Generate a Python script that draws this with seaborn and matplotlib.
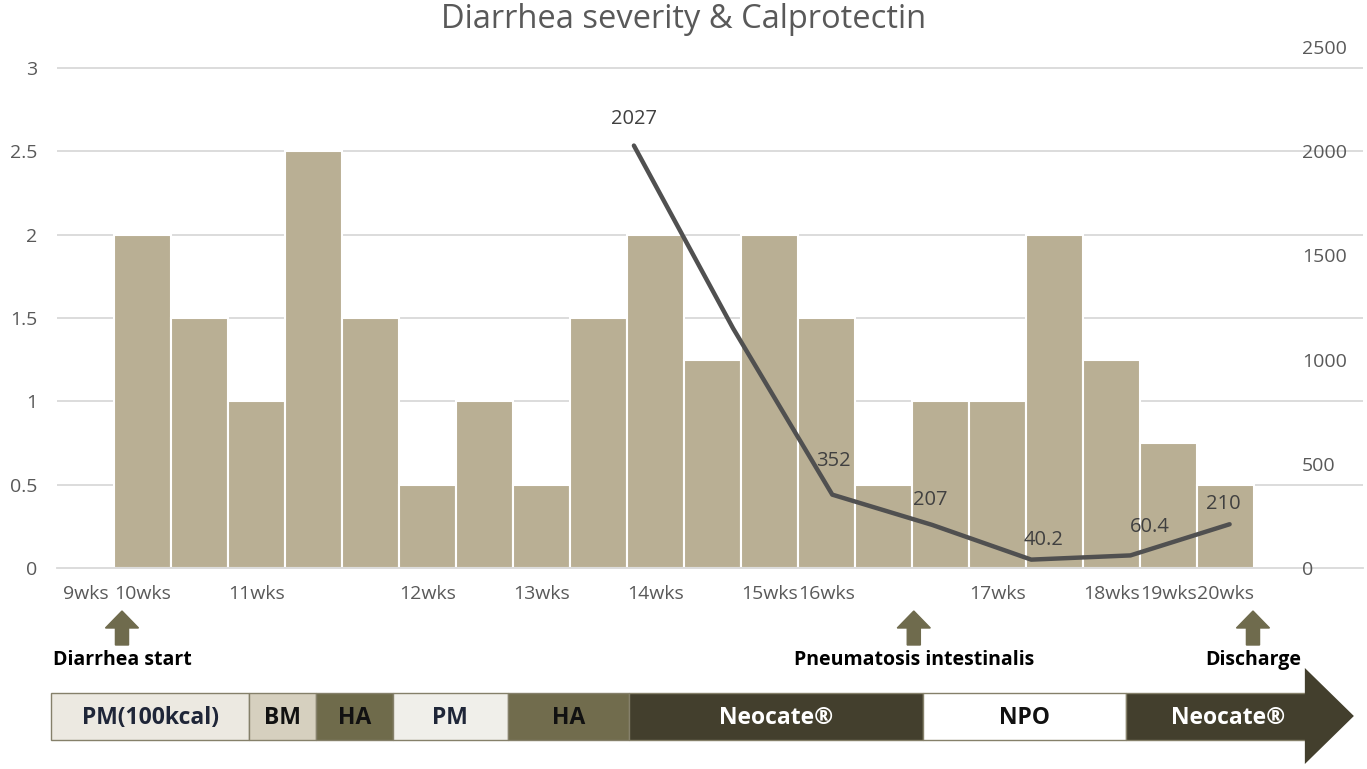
import matplotlib
matplotlib.use("Agg")
import matplotlib.pyplot as plt
import seaborn as sns
import pandas as pd
from matplotlib.patches import Polygon, Rectangle

# bars: diarrhea severity per (half-)week slot
weeks = list(range(23))
week_labels = ["9wks", "10wks", "", "11wks", "", "", "12wks", "", "13wks", "",
               "14wks", "", "15wks", "16wks", "", "", "17wks", "", "18wks",
               "19wks", "20wks", "", ""]
severity = [0, 2, 1.5, 1, 2.5, 1.5, 0.5, 1, 0.5, 1.5, 2, 1.25, 2, 1.5, 0.5,
            1, 1, 2, 1.25, 0.75, 0.5, 0, 0]

# line: calprotectin (secondary axis)
calp_pos = [9.62, 11.36, 13.1, 14.85, 16.59, 18.33, 20.07]
calprotectin = [2027, 1150, 352, 207, 40.2, 60.4, 210]
calp_labels = ["2027", "", "352", "207", "40.2", "60.4", "210"]

# events under the axis
event_labels = ["Diarrhea start", "Pneumatosis intestinalis", "Discharge"]
event_pos = [0.64, 14.53, 20.48]

# feeding timeline
phase_labels = ["PM(100kcal)", "BM", "HA", "PM", "HA", "Neocate®", "NPO", "Neocate®"]
phase_start = [-0.6, 2.87, 4.04, 5.39, 7.41, 9.54, 14.69, 18.25]
phase_end = [2.87, 4.04, 5.39, 7.41, 9.54, 14.69, 18.25, 21.41]

phase_colors = ["#ece9e1", "#d6d0bf", "#6f6b4b", "#f0efea", "#716c4d",
                "#433f2d", "#ffffff", "#433f2d"]
phase_text = ["#1f2638", "#111111", "#111111", "#1f2638", "#111111",
              "#ffffff", "#111111", "#ffffff"]

sns.set_style("white")
plt.rcParams["font.family"] = ["Open Sans", "DejaVu Sans"]

W, H = 1367, 769
fig = plt.figure(figsize=(W / 100, H / 100), dpi=100)
L, R, B, T = 57 / W, 1363 / W, 1 - 568 / H, 1 - 47 / H
ax = fig.add_axes([L, B, R - L, T - B])

df = pd.DataFrame({"week": weeks, "severity": severity})
sns.barplot(data=df, x="week", y="severity", color="#b9af94", saturation=1,
            width=1, edgecolor="white", linewidth=1.5, ax=ax)

ax.set_ylim(0, 3 * (568 - 47) / (568 - 68))
ax.set_yticks([0, 0.5, 1, 1.5, 2, 2.5, 3])
ax.set_yticklabels(["0", "0.5", "1", "1.5", "2", "2.5", "3"])
ax.yaxis.grid(True, color="#d9d9d9", linewidth=1.3)
ax.set_axisbelow(True)
ax.set_xlim(-0.5, 22.41)
ax.set_xticks(weeks)
ax.set_xticklabels(week_labels)
ax.set_xticks([w - 0.5 for w in weeks] + [22.5], minor=True)
ax.tick_params(axis="x", which="major", length=0, pad=12, labelsize=14, labelcolor="#595959")
ax.tick_params(axis="x", which="minor", length=6, color="#d9d9d9", width=1.3)
ax.tick_params(axis="y", length=0, pad=14, labelsize=14, labelcolor="#595959")
ax.set_xlabel("")
ax.set_ylabel("")
for s in ["left", "right", "top"]:
    ax.spines[s].set_visible(False)
ax.spines["bottom"].set_color("#d9d9d9")
ax.spines["bottom"].set_linewidth(1.3)

ax2 = ax.twinx()
sns.lineplot(x=calp_pos, y=calprotectin, color="#505050", linewidth=3.2,
             sort=False, ax=ax2)
ax2.set_ylim(0, 2500)
ax2.set_xlim(-0.5, 22.41)
ax2.set_yticks([0, 500, 1000, 1500, 2000, 2500])
ax2.tick_params(axis="y", length=0, pad=-44, labelsize=14, labelcolor="#595959")
for lbl in ax2.get_yticklabels():
    lbl.set_horizontalalignment("left")
for s in ax2.spines.values():
    s.set_visible(False)
ax2.set_ylabel("")

offsets = [(0, 27), (0, 0), (1, 34), (-2, 25), (12, 20), (19, 28), (-6, 20)]
for xv, yv, txt, off in zip(calp_pos, calprotectin, calp_labels, offsets):
    if txt:
        ax2.annotate(txt, (xv, yv), xytext=off, textcoords="offset pixels",
                     ha="center", va="center", fontsize=14.5, color="#404040")

fig.suptitle("Diarrhea severity & Calprotectin", y=1 - 20 / H, va="center",
             fontsize=23.5, color="#595959")

# lower panel: events + feeding timeline (y in pixels from top)
axt = fig.add_axes([L, 0, R - L, B])
axt.set_xlim(-0.5, 22.41)
axt.set_ylim(H, 568)
axt.axis("off")

for xv, txt in zip(event_pos, event_labels):
    hw, sw = 0.29, 0.115
    arrow = Polygon([(xv - sw, 645), (xv - sw, 628), (xv - hw, 628), (xv, 611),
                     (xv + hw, 628), (xv + sw, 628), (xv + sw, 645)],
                    closed=True, color="#6f6b4d", clip_on=False)
    axt.add_patch(arrow)
    axt.text(xv, 660, txt, ha="center", va="center", fontsize=14,
             fontweight="bold", color="black", clip_on=False)

tip = 22.25
for i, (x0, x1, lab) in enumerate(zip(phase_start, phase_end, phase_labels)):
    rect = Rectangle((x0, 693), x1 - x0, 47, facecolor=phase_colors[i],
                     edgecolor="#85806a", linewidth=1, clip_on=False)
    axt.add_patch(rect)
    cx = (x0 + x1) / 2
    if i == len(phase_labels) - 1:
        head = Polygon([(x1 - 0.02, 668), (tip, 716), (x1 - 0.02, 764)],
                       closed=True, facecolor=phase_colors[i], edgecolor="none",
                       clip_on=False)
        axt.add_patch(head)
        cx = (x0 + tip) / 2 - 0.2
    axt.text(cx, 718, lab, ha="center", va="center", fontsize=16.5,
             fontweight="bold", color=phase_text[i], clip_on=False)

fig.savefig("out.png", dpi=100, facecolor="white")
